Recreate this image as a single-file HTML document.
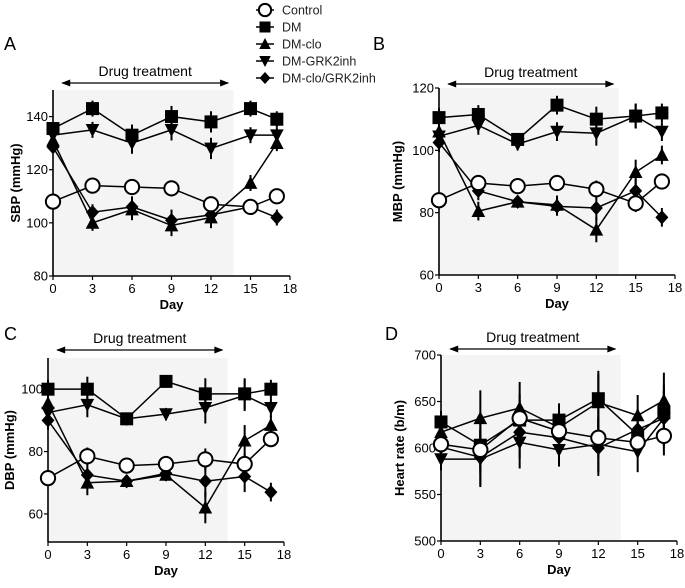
<!DOCTYPE html>
<html><head><meta charset="utf-8"><style>
body{margin:0;background:#fff;width:685px;height:583px;overflow:hidden}
svg{font-family:"Liberation Sans",Arial,sans-serif}
</style></head><body>
<svg id="fig" width="685" height="583" viewBox="0 0 685 583" xmlns="http://www.w3.org/2000/svg"></svg>
<script>
const days=[0,3,6,9,12,15,17];
const seriesNames=["Control","DM","DM-clo","DM-GRK2inh","DM-clo/GRK2inh"];
const xTicks=[0,3,6,9,12,15,18];
// Panel A SBP
const aControl=[108,114,113.5,113,107,106,110];
const aDM=[135.5,143,133,140,138,143,139];
const aClo=[131,100,105,99,102,115,130];
const aGRK=[133,135,130,135,128,133,133];
const aCombo=[128.5,104,106,101,103,106,102];
const aErr=[2,3,4,4,4,3,3];
const aTicks=[80,100,120,140];
// Panel B MBP
const bControl=[84,89.5,88.5,89.5,87.5,83,90];
const bDM=[110.5,111.5,103.5,114.5,110,111,112];
const bClo=[106,80.5,83.5,82.5,74.5,93,98.5];
const bGRK=[104.5,108,102,106,105.5,111,106];
const bCombo=[102.5,87,83.5,82,81.5,87,78.5];
const bErr=[3,3,2,3,4,4,3];
const bTicks=[60,80,100,120];
// Panel C DBP
const cControl=[71.5,78.5,75.5,76,77.5,76,84];
const cDM=[100,100,90.5,102.5,98.5,98.5,100];
const cClo=[95.5,70,70.5,72.5,62,83.5,88.5];
const cGRK=[92.5,95,90.5,92,94,98,94];
const cCombo=[90,72.5,70.5,73,70.5,72,67];
const cErr=[3,4,2,2,5,5,3];
const cTicks=[60,80,100];
// Panel D HR
const dControl=[604,598,632,618,611,606,613];
const dDM=[628,603,630,630,653,614,638];
const dClo=[617,632,643,622,649,635,651];
const dGRK=[588,588,606,598,604,596,632];
const dCombo=[601,590,617,611,600,620,632];
const dErr=[12,30,28,18,30,22,30];
const dTicks=[500,550,600,650,700];

const NS="http://www.w3.org/2000/svg";
const svg=document.getElementById('fig');
function mk(tag,attrs,parent){const e=document.createElementNS(NS,tag);for(const k in attrs)e.setAttribute(k,attrs[k]);(parent||svg).appendChild(e);return e;}
function marker(g,type,x,y,s){
  if(type===0)return mk('circle',{cx:x,cy:y,r:s*0.95,fill:'#fff',stroke:'#000','stroke-width':2},g);
  if(type===1)return mk('rect',{x:x-s,y:y-s,width:2*s,height:2*s,fill:'#000'},g);
  if(type===2)return mk('polygon',{points:`${x},${y-s*1.1} ${x-s*1.05},${y+s*0.9} ${x+s*1.05},${y+s*0.9}`,fill:'#000'},g);
  if(type===3)return mk('polygon',{points:`${x},${y+s*1.1} ${x-s*1.05},${y-s*0.9} ${x+s*1.05},${y-s*0.9}`,fill:'#000'},g);
  return mk('polygon',{points:`${x},${y-s*1.1} ${x+s},${y} ${x},${y+s*1.1} ${x-s},${y}`,fill:'#000'},g);
}
function panel(p){
  const g=mk('g',{});
  
  
  const X=d=>p.x0+(p.x1-p.x0)*d/18;
  const Y=v=>p.yb+(p.yt-p.yb)*(v-p.vmin)/(p.vmax-p.vmin);
  const sh=mk('rect',{x:X(0),y:Y(p.vmax),width:X(13.7)-X(0),height:Y(p.vmin)-Y(p.vmax),fill:'#f4f4f4'},g);
  
  mk('line',{x1:X(0),y1:Y(p.vmax),x2:X(0),y2:Y(p.vmin),stroke:'#000','stroke-width':1.6},g);
  mk('line',{x1:X(0),y1:Y(p.vmin),x2:X(18),y2:Y(p.vmin),stroke:'#000','stroke-width':1.6},g);
  xTicks.forEach(t=>{mk('line',{x1:X(t),y1:Y(p.vmin),x2:X(t),y2:Y(p.vmin)+4,stroke:'#000','stroke-width':1.2},g);
    const tx=mk('text',{x:X(t),y:Y(p.vmin)+17,'text-anchor':'middle','font-size':13},g);tx.textContent=t;
    });
  p.ticks.forEach(t=>{mk('line',{x1:X(0)-4,y1:Y(t),x2:X(0),y2:Y(t),stroke:'#000','stroke-width':1.2},g);
    const tx=mk('text',{x:X(0)-5,y:Y(t)+4.5,'text-anchor':'end','font-size':13},g);tx.textContent=t;
    });
  const xt=mk('text',{x:(X(0)+X(18))/2,y:Y(p.vmin)+33,'text-anchor':'middle','font-size':13,'font-weight':600},g);xt.textContent='Day';
  
  const ym=(Y(p.vmin)+Y(p.vmax))/2;
  const yt=mk('text',{x:p.ytx,y:ym,'text-anchor':'middle','font-size':13,'font-weight':600,transform:`rotate(-90 ${p.ytx} ${ym})`},g);yt.textContent=p.ytitle;
  
  const lt=mk('text',{x:p.lx,y:p.ly,'font-size':18},g);lt.textContent=p.letter;
  
  const ax1=X(0.7),ax2=X(13.3);
  mk('line',{x1:ax1,y1:p.ay,x2:ax2,y2:p.ay,stroke:'#000','stroke-width':1.3},g);
  mk('polygon',{points:`${ax1-1},${p.ay} ${ax1+8},${p.ay-3.5} ${ax1+8},${p.ay+3.5}`},g);
  mk('polygon',{points:`${ax2+1},${p.ay} ${ax2-8},${p.ay-3.5} ${ax2-8},${p.ay+3.5}`},g);
  const at=mk('text',{x:(ax1+ax2)/2,y:p.ay-7,'text-anchor':'middle','font-size':14},g);at.textContent='Drug treatment';
  
  const order=[4,3,2,1,0];
  order.forEach(si=>{
    const vals=p.series[si];
    const sg=mk('g',{},g);
    
    
    mk('polyline',{points:vals.map((v,i)=>X(days[i])+','+Y(v)).join(' '),fill:'none',stroke:'#000','stroke-width':1.5},sg);
    vals.forEach((v,i)=>{
      const e=p.err[i]*(si===0?0.7:1);
      mk('line',{x1:X(days[i]),y1:Y(v-e),x2:X(days[i]),y2:Y(v+e),stroke:'#000','stroke-width':2},sg);
      const m=marker(sg,si,X(days[i]),Y(v),si===0?7.5:6.5);
      
    });
  });
}
panel({letter:'A',lx:4,ly:50,x0:53,x1:290,yt:90,yb:276,vmin:80,vmax:150,ticks:aTicks,ytitle:'SBP (mmHg)',ytx:20,ay:83,
  series:[aControl,aDM,aClo,aGRK,aCombo],err:aErr});
panel({letter:'B',lx:373,ly:50,x0:439,x1:675,yt:88,yb:275,vmin:60,vmax:120,ticks:bTicks,ytitle:'MBP (mmHg)',ytx:402,ay:84,
  series:[bControl,bDM,bClo,bGRK,bCombo],err:bErr});
panel({letter:'C',lx:4,ly:340,x0:48,x1:284,yt:358,yb:542,vmin:51,vmax:110,ticks:cTicks,ytitle:'DBP (mmHg)',ytx:14,ay:350,
  series:[cControl,cDM,cClo,cGRK,cCombo],err:cErr});
panel({letter:'D',lx:385,ly:340,x0:441,x1:677,yt:355,yb:541,vmin:500,vmax:700,ticks:dTicks,ytitle:'Heart rate (b/m)',ytx:404,ay:349,
  series:[dControl,dDM,dClo,dGRK,dCombo],err:dErr});
const lg=mk('g',{});


seriesNames.forEach((n,i)=>{
  const y=10+i*17;
  const eg=mk('g',{},lg);
  
  
  mk('line',{x1:256,y1:y,x2:274,y2:y,stroke:'#000','stroke-width':1.5},eg);
  marker(eg,i,265,y,i===0?6.5:5.5);
  const t=mk('text',{x:282,y:y+4.5,'font-size':12.5,fill:'#222'},eg);t.textContent=n;
});
</script>
</body></html>
